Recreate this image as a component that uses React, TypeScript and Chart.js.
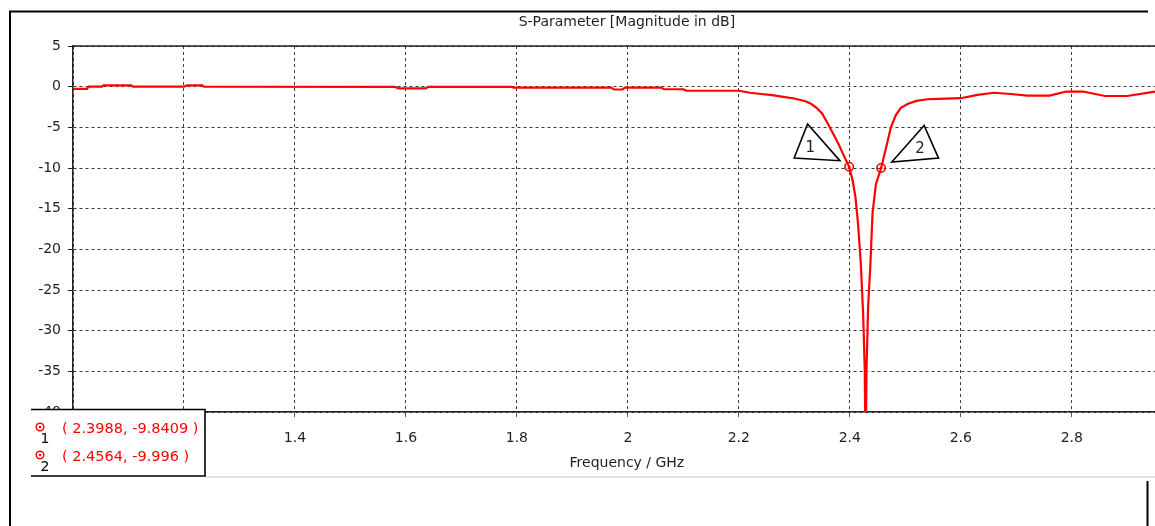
import React, { useEffect, useRef } from "react";
import { Chart, registerables } from "chart.js";

Chart.register(...registerables);

// S11 magnitude trace (frequency in GHz, magnitude in dB)
const freqGHz = [
  1.0, 1.025, 1.028, 1.052, 1.055, 1.105, 1.108, 1.2, 1.205, 1.233, 1.236,
  1.58, 1.587, 1.636, 1.64, 1.79, 1.795, 1.97, 1.975, 1.99, 1.995, 2.06,
  2.065, 2.1, 2.105, 2.2, 2.22, 2.24, 2.26, 2.28, 2.3, 2.32, 2.33, 2.34,
  2.35, 2.36, 2.37, 2.38, 2.39, 2.3988, 2.405, 2.41, 2.415, 2.42, 2.424,
  2.427, 2.4285, 2.43, 2.433, 2.437, 2.441, 2.447, 2.4564, 2.465, 2.474,
  2.483, 2.492, 2.505, 2.52, 2.54, 2.56, 2.6, 2.63, 2.66, 2.69, 2.72, 2.76,
  2.79, 2.82, 2.86, 2.9, 2.95,
];
const s11dB = [
  -0.28, -0.28, 0, 0, 0.17, 0.17, 0, 0, 0.15, 0.15, 0,
  -0.03, -0.2, -0.2, -0.03, -0.03, -0.12, -0.12, -0.35, -0.35, -0.12, -0.12,
  -0.3, -0.32, -0.48, -0.5, -0.75, -0.9, -1.05, -1.25, -1.45, -1.8, -2.1, -2.6,
  -3.3, -4.5, -5.8, -7.1, -8.6, -9.8409, -11.5, -13.5, -17, -22, -28,
  -35, -48, -35, -27, -22, -15.5, -12, -9.996, -7.6, -5.0,
  -3.5, -2.6, -2.1, -1.75, -1.55, -1.5, -1.42, -1.0, -0.75, -0.9, -1.1, -1.1,
  -0.6, -0.6, -1.15, -1.15, -0.6,
];

// Curve markers
const markerIds = ["1", "2"];
const markerFreq = [2.3988, 2.4564];
const markerDb = [-9.8409, -9.996];

// Axes
const xMin = 1.0;
const xMax = 2.95;
const xStep = 0.2;
const yMin = -40;
const yMax = 5;
const yStep = 5;

const chartTitle = "S-Parameter [Magnitude in dB]";
const xAxisTitle = "Frequency / GHz";

const FONT = "'DejaVu Sans', Verdana, sans-serif";
const RED = "#ff0000";
const INK = "#1e1e28";

const overlayPlugin = {
  id: "overlay",
  afterDraw(chart: any) {
    const { ctx, chartArea } = chart;
    const xs = chart.scales.x;
    const ys = chart.scales.y;
    ctx.save();

    // solid top border of the plot
    ctx.strokeStyle = "#222";
    ctx.lineWidth = 1.5;
    ctx.beginPath();
    ctx.moveTo(chartArea.left, chartArea.top);
    ctx.lineTo(chartArea.right, chartArea.top);
    ctx.stroke();

    // outer frame
    ctx.strokeStyle = "#000";
    ctx.lineWidth = 2;
    ctx.beginPath();
    ctx.moveTo(10, 526);
    ctx.lineTo(10, 11.5);
    ctx.lineTo(1148, 11.5);
    ctx.stroke();
    ctx.beginPath();
    ctx.moveTo(1147.5, 481);
    ctx.lineTo(1147.5, 526);
    ctx.stroke();
    ctx.strokeStyle = "#e2e2e2";
    ctx.beginPath();
    ctx.moveTo(205, 477);
    ctx.lineTo(1155, 477);
    ctx.stroke();

    // titles
    const cx = xs.getPixelForValue(2.0) - 1;
    ctx.fillStyle = INK;
    ctx.font = `14px ${FONT}`;
    ctx.textAlign = "center";
    ctx.textBaseline = "middle";
    ctx.fillText(chartTitle, cx, 22);
    ctx.fillText(xAxisTitle, cx, 463);

    // marker centre dots, flags and numbers
    markerFreq.forEach((f, i) => {
      const px = xs.getPixelForValue(f);
      const py = ys.getPixelForValue(markerDb[i]);
      ctx.fillStyle = RED;
      ctx.beginPath();
      ctx.arc(px, py, 1.3, 0, Math.PI * 2);
      ctx.fill();

      const s = i === 0 ? -1 : 1;
      const tri =
        i === 0
          ? [[-41.6, -42.7], [-55, -8.7], [-9.3, -6]]
          : [[43, -42.5], [10.7, -5.9], [57.4, -9.9]];
      ctx.strokeStyle = "#000";
      ctx.lineWidth = 1.6;
      ctx.lineJoin = "miter";
      ctx.beginPath();
      tri.forEach(([dx, dy], k) => {
        if (k === 0) ctx.moveTo(px + dx, py + dy);
        else ctx.lineTo(px + dx, py + dy);
      });
      ctx.closePath();
      ctx.stroke();
      ctx.fillStyle = INK;
      ctx.font = `15px ${FONT}`;
      ctx.textAlign = "center";
      ctx.textBaseline = "middle";
      ctx.fillText(markerIds[i], px + s * 39, py - 19);
    });

    // marker readout box
    ctx.fillStyle = "#fff";
    ctx.fillRect(31, 409, 174, 67);
    ctx.strokeStyle = "#000";
    ctx.lineWidth = 1.6;
    ctx.beginPath();
    ctx.moveTo(31, 409.5);
    ctx.lineTo(205, 409.5);
    ctx.lineTo(205, 476);
    ctx.lineTo(31, 476);
    ctx.stroke();

    markerIds.forEach((id, i) => {
      const rowY = 427 + i * 28;
      ctx.strokeStyle = RED;
      ctx.lineWidth = 1.5;
      ctx.beginPath();
      ctx.arc(40, rowY, 3.8, 0, Math.PI * 2);
      ctx.stroke();
      ctx.fillStyle = RED;
      ctx.beginPath();
      ctx.arc(40, rowY, 1.3, 0, Math.PI * 2);
      ctx.fill();
      ctx.fillStyle = "#000";
      ctx.font = `14px ${FONT}`;
      ctx.textAlign = "center";
      ctx.textBaseline = "middle";
      ctx.fillText(id, 45, rowY + 12);
      ctx.fillStyle = RED;
      ctx.textAlign = "left";
      ctx.font = `14.5px ${FONT}`;
      ctx.fillText(`( ${markerFreq[i]}, ${markerDb[i]} )`, 62, rowY + 2);
    });

    ctx.restore();
  },
};

export default function App() {
  const canvasRef = useRef<HTMLCanvasElement | null>(null);

  useEffect(() => {
    const canvas = canvasRef.current;
    if (!canvas) return;
    const chart = new Chart(canvas, {
      type: "scatter",
      data: {
        datasets: [
          {
            label: "S1,1",
            data: freqGHz.map((f, i) => ({ x: f, y: s11dB[i] })),
            showLine: true,
            borderColor: RED,
            borderWidth: 2.2,
            pointRadius: 0,
            tension: 0,
          },
          {
            label: "Markers",
            data: markerFreq.map((f, i) => ({ x: f, y: markerDb[i] })),
            showLine: false,
            pointRadius: 4.2,
            pointBorderWidth: 1.6,
            borderColor: RED,
            backgroundColor: "rgba(255,255,255,0)",
          },
        ],
      },
      options: {
        responsive: false,
        animation: false,
        devicePixelRatio: 1,
        layout: { autoPadding: false, padding: { top: 46, left: 0, right: 0, bottom: 0 } },
        plugins: {
          legend: { display: false },
          title: { display: false },
          tooltip: { enabled: false },
        },
        scales: {
          x: {
            type: "linear",
            min: xMin,
            max: xMax,
            afterFit: (scale: any) => {
              scale.height = 114;
              scale.paddingLeft = 0;
              scale.paddingRight = 0;
            },
            ticks: {
              stepSize: xStep,
              includeBounds: false,
              autoSkip: false,
              maxRotation: 0,
              padding: 13,
              color: INK,
              font: { family: FONT, size: 14 },
              callback: (v: any) => String(Math.round(Number(v) * 10) / 10),
            },
            grid: {
              color: "#3c3c3c",
              lineWidth: 1,
              tickLength: 5,
              tickColor: "#222",
              tickBorderDash: [1, 0],
            },
            border: { display: true, color: "#222", width: 1.5, dash: [3, 3] },
          },
          y: {
            type: "linear",
            min: yMin,
            max: yMax,
            afterFit: (scale: any) => {
              scale.width = 73;
            },
            ticks: {
              stepSize: yStep,
              autoSkip: false,
              padding: 7,
              color: INK,
              font: { family: FONT, size: 14 },
            },
            grid: {
              color: "#3c3c3c",
              lineWidth: 1,
              tickLength: 5,
              tickColor: "#222",
              tickBorderDash: [1, 0],
            },
            border: { display: true, color: "#222", width: 1.5, dash: [3, 3] },
          },
        },
      },
      plugins: [overlayPlugin],
    });
    return () => chart.destroy();
  }, []);

  return (
    <div style={{ position: "fixed", left: 0, top: 0, width: 1155, height: 526, background: "#fff" }}>
      <canvas ref={canvasRef} width={1155} height={526} style={{ display: "block" }} />
    </div>
  );
}
